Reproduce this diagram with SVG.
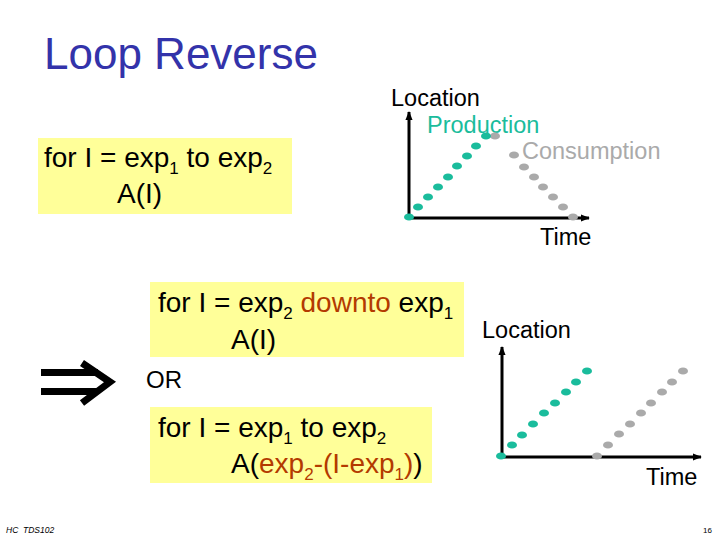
<svg xmlns="http://www.w3.org/2000/svg" width="720" height="540" viewBox="0 0 720 540">
<style>
text{font-family:"Liberation Sans",Arial,sans-serif}
.t{font-size:28px;fill:#000}
.sub{font-size:17px}
.lbl{font-size:23.5px;fill:#000}
.box{fill:#FFFF99}
.hl{fill:#B33A00}
.ax{stroke:#000;stroke-width:3;fill:none}
.g{fill:#1ABC9C}
.s{fill:#AAAAAA}
</style>
<defs>
<marker id="ah" viewBox="0 0 10 10" refX="9" refY="5" markerWidth="3" markerHeight="3" orient="auto"><path d="M0,1 L10,5 L0,9 z" fill="#000"/></marker>
<g id="d"><ellipse rx="5" ry="3.6"/></g>
</defs>
<rect width="720" height="540" fill="#fff"/>
<text x="44" y="69" font-size="44" fill="#3333AA">Loop Reverse</text>

<g id="box1">
<rect class="box" x="38" y="138" width="254" height="76"/>
<text class="t" x="44" y="167">for I = exp<tspan class="sub" dy="7">1</tspan><tspan dy="-7"> to exp</tspan><tspan class="sub" dy="7">2</tspan></text>
<text class="t" x="117" y="203">A(I)</text>
</g>

<g id="box2">
<rect class="box" x="150" y="282" width="314" height="75"/>
<text class="t" x="158" y="312">for I = exp<tspan class="sub" dy="7">2</tspan><tspan dy="-7"> </tspan><tspan class="hl">downto</tspan> exp<tspan class="sub" dy="7">1</tspan></text>
<text class="t" x="231" y="349">A(I)</text>
</g>

<g id="or"><text x="146" y="388" font-size="24">OR</text></g>

<g id="box3">
<rect class="box" x="150" y="407" width="282" height="76"/>
<text class="t" x="158" y="437">for I = exp<tspan class="sub" dy="7">1</tspan><tspan dy="-7"> to exp</tspan><tspan class="sub" dy="7">2</tspan></text>
<text class="t" x="231" y="473">A(<tspan class="hl">exp</tspan><tspan class="hl sub" dy="7">2</tspan><tspan class="hl" dy="-7">-(I-exp</tspan><tspan class="hl sub" dy="7">1</tspan><tspan class="hl" dy="-7">)</tspan>)</text>
</g>

<g id="implies">
<rect x="41" y="369" width="57" height="7" fill="#000"/>
<rect x="41" y="388" width="57" height="7" fill="#000"/>
<path d="M82,363 L110,382 L82,403" fill="none" stroke="#000" stroke-width="7"/>
</g>

<g id="chart1">
<line class="ax" x1="409" y1="219" x2="409" y2="112" marker-end="url(#ah)"/>
<line class="ax" x1="408" y1="218" x2="589" y2="218" marker-end="url(#ah)"/>
<text class="lbl" x="391" y="106">Location</text>
<text x="427" y="133" font-size="23.5" fill="#1ABC9C">Production</text>
<text x="522" y="159" font-size="23.5" fill="#AAAAAA">Consumption</text>
<text class="lbl" x="540" y="245">Time</text>
<g class="s">
<use href="#d" x="495" y="136"/><use href="#d" x="514" y="155"/><use href="#d" x="524" y="167"/><use href="#d" x="534" y="177"/><use href="#d" x="543" y="187"/><use href="#d" x="553" y="197"/><use href="#d" x="563" y="207"/><use href="#d" x="573" y="217"/>
</g>
<g class="g">
<use href="#d" x="409" y="217"/><use href="#d" x="418" y="207"/><use href="#d" x="428" y="197"/><use href="#d" x="438" y="187"/><use href="#d" x="448" y="177"/><use href="#d" x="457" y="166"/><use href="#d" x="467" y="156"/><use href="#d" x="476" y="146"/><use href="#d" x="486" y="136"/>
</g>
</g>

<g id="chart2">
<line class="ax" x1="502" y1="457" x2="502" y2="347" marker-end="url(#ah)"/>
<line class="ax" x1="501" y1="457" x2="701" y2="457" marker-end="url(#ah)"/>
<text class="lbl" x="482" y="338">Location</text>
<text class="lbl" x="646" y="485">Time</text>
<g class="g">
<use href="#d" x="501" y="456"/><use href="#d" x="512" y="445"/><use href="#d" x="522" y="435"/><use href="#d" x="533" y="424"/><use href="#d" x="544" y="413"/><use href="#d" x="555" y="403"/><use href="#d" x="566" y="392"/><use href="#d" x="576" y="382"/><use href="#d" x="587" y="371"/>
</g>
<g class="s">
<use href="#d" x="597" y="456"/><use href="#d" x="608" y="445"/><use href="#d" x="619" y="434"/><use href="#d" x="630" y="424"/><use href="#d" x="641" y="413"/><use href="#d" x="651" y="403"/><use href="#d" x="662" y="392"/><use href="#d" x="672" y="382"/><use href="#d" x="683" y="371"/>
</g>
</g>

<text x="6" y="533" font-size="8.5" font-style="italic" xml:space="preserve">HC  TDS102</text>
<text x="703" y="533" font-size="8">16</text>
</svg>
